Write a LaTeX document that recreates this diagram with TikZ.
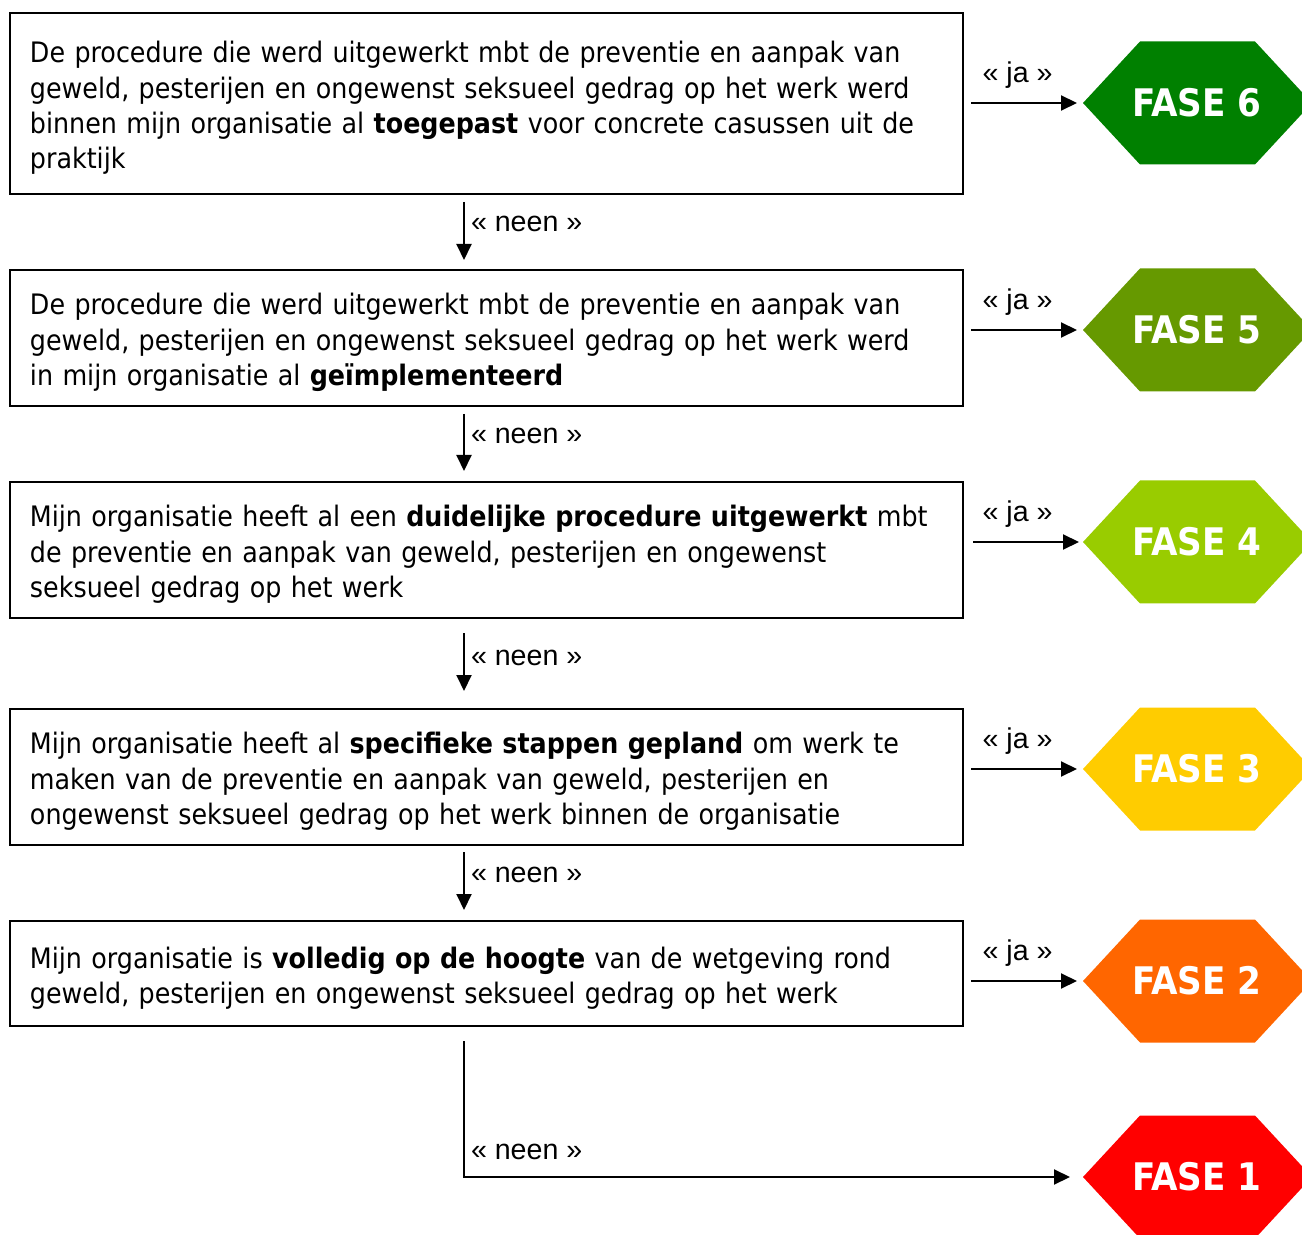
\documentclass[tikz,border=0pt]{standalone}
\usepackage{fontspec}
\setmainfont{DejaVu Sans Condensed}
\newfontfamily\pijlfont{Liberation Sans}
\usetikzlibrary{arrows.meta}

\definecolor{fase6}{RGB}{0,128,0}
\definecolor{fase5}{RGB}{102,153,0}
\definecolor{fase4}{RGB}{153,204,0}
\definecolor{fase3}{RGB}{255,204,0}
\definecolor{fase2}{RGB}{255,102,0}
\definecolor{fase1}{RGB}{255,0,0}

\tikzset{
  vraag/.style={draw,line width=1pt,text width=456.5pt,inner xsep=10pt,align=left,
    font=\fontsize{14.1}{17.65}\selectfont,execute at begin node={\rule{0pt}{15.2pt}}},
  pijl/.style={line width=1pt,-{Triangle[length=8pt,width=7.5pt]}},
  antw/.style={inner sep=0pt,font=\pijlfont\fontsize{14.3}{16}\selectfont},
  fase/.style={text=white,font=\bfseries\fontsize{19}{20}\selectfont}
}

\newcommand{\zeshoek}[4]{%
  \fill[#3](1083,#2)--++(57,-61.5)--++(115,0)--++(57,61.5)--++(-57,61.5)--++(-115,0)--cycle;
  \coordinate (#1w) at (1083,#2);
  \node[fase] (#1) at (1197,#2) {FASE #4};
}

\begin{document}
\begin{tikzpicture}[x=0.5pt,y=-0.5pt]
\clip (0,0) rectangle (1302,1235);
\coordinate (ax) at (464,0);

\node[vraag,minimum height=90.5pt] (v6) at (486.5,103.5) {De procedure die werd uitgewerkt mbt de preventie en aanpak van\\
geweld, pesterijen en ongewenst seksueel gedrag op het werk werd\\
binnen mijn organisatie al \textbf{toegepast} voor concrete casussen uit de\\
praktijk};
\node[vraag,minimum height=68pt] (v5) at (486.5,338) {De procedure die werd uitgewerkt mbt de preventie en aanpak van\\
geweld, pesterijen en ongewenst seksueel gedrag op het werk werd\\
in mijn organisatie al \textbf{geïmplementeerd}};
\node[vraag,minimum height=68pt] (v4) at (486.5,550) {Mijn organisatie heeft al een \textbf{duidelijke procedure uitgewerkt} mbt\\
de preventie en aanpak van geweld, pesterijen en ongewenst\\
seksueel gedrag op het werk};
\node[vraag,minimum height=68pt] (v3) at (486.5,777) {Mijn organisatie heeft al \textbf{specifieke stappen gepland} om werk te\\
maken van de preventie en aanpak van geweld, pesterijen en\\
ongewenst seksueel gedrag op het werk binnen de organisatie};
\node[vraag,minimum height=52.5pt] (v2) at (486.5,973.5) {Mijn organisatie is \textbf{volledig op de hoogte} van de wetgeving rond\\
geweld, pesterijen en ongewenst seksueel gedrag op het werk};

\zeshoek{f6}{103}{fase6}{6}
\zeshoek{f5}{330}{fase5}{5}
\zeshoek{f4}{542}{fase4}{4}
\zeshoek{f3}{769}{fase3}{3}
\zeshoek{f2}{981}{fase2}{2}
\zeshoek{f1}{1177}{fase1}{1}

\draw[pijl,shorten <=3.5pt,shorten >=3pt](f6w -| v6.east)--node[antw,above=7pt,pos=0.45]{« ja »}(f6w);
\draw[pijl,shorten <=3.5pt,shorten >=3pt](f5w -| v5.east)--node[antw,above=7pt,pos=0.45]{« ja »}(f5w);
\draw[pijl,shorten <=4.5pt,shorten >=2pt](f4w -| v4.east)--node[antw,above=7pt,pos=0.45]{« ja »}(f4w);
\draw[pijl,shorten <=3.5pt,shorten >=3pt](f3w -| v3.east)--node[antw,above=7pt,pos=0.45]{« ja »}(f3w);
\draw[pijl,shorten <=3.5pt,shorten >=3pt](f2w -| v2.east)--node[antw,above=7pt,pos=0.45]{« ja »}(f2w);

\draw[pijl,shorten <=3.5pt,shorten >=4.5pt](v6.south -| ax)--node[antw,right=3pt,pos=0.39]{« neen »}(v5.north -| ax);
\draw[pijl,shorten <=3.5pt,shorten >=5pt](v5.south -| ax)--node[antw,right=3pt,pos=0.39]{« neen »}(v4.north -| ax);
\draw[pijl,shorten <=7pt,shorten >=8.5pt](v4.south -| ax)--node[antw,right=3pt,pos=0.44]{« neen »}(v3.north -| ax);
\draw[pijl,shorten <=3pt,shorten >=5pt](v3.south -| ax)--node[antw,right=3pt,pos=0.39]{« neen »}(v2.north -| ax);
\draw[pijl,shorten <=7pt,shorten >=6.5pt](v2.south -| ax)|-node[antw,anchor=south west,xshift=3pt,yshift=8pt,pos=0.5]{« neen »}(f1w);
\end{tikzpicture}
\end{document}
